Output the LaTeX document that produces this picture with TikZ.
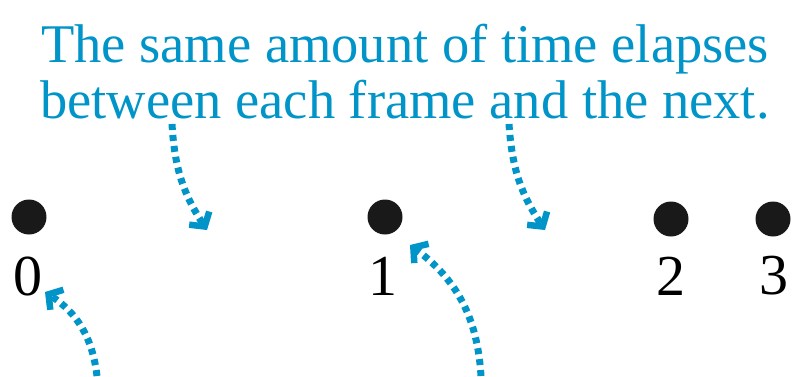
\documentclass[tikz,border=0pt]{standalone}
\usepackage{fontspec}
\setmainfont{Liberation Serif}
\usepackage{tikz}
\usetikzlibrary{positioning, arrows.meta}

\definecolor{noteblue}{RGB}{0,148,200}

\begin{document}
\begin{tikzpicture}[x=1pt, y=-1pt,
    dot/.style={circle, fill=black!90, inner sep=0pt, minimum size=35pt},
    framenum/.style={font=\fontsize{58}{58}\selectfont, inner sep=0pt},
    note/.style={draw=noteblue, line width=7pt, dash pattern=on 6pt off 5pt,
        -{Straight Barb[length=10pt, width=24pt, line width=6.5pt]}}]
    \useasboundingbox (0,0) rectangle (794,376);
    % caption
    \node[text=noteblue, align=center, font=\fontsize{54.5}{56}\selectfont] (title) at (405,72)
        {The same amount of time elapses\\between each frame and the next.};
    % frames
    \node[dot] (dot0) at (29,217) {};
    \node[dot] (dot1) at (385,217) {};
    \node[dot] (dot2) at (671,219) {};
    \node[dot] (dot3) at (773,219) {};
    \node[framenum] (num0) at (28,276) {0};
    \node[framenum] (num1) at (383,276) {1};
    \node[framenum] (num2) at (671,276) {2};
    \node[framenum] (num3) at (774,276) {3};
    % arrows
    \coordinate (topA) at (172,124);
    \coordinate (topB) at (509,124);
    \coordinate (gapA) at (207,230);
    \coordinate (gapB) at (545,230);
    \coordinate (footA) at (97,376);
    \coordinate (footB) at (481,376);
    \coordinate (tipA) at (45,292);
    \coordinate (tipB) at (410,245);
    \draw[note] (topA) to[bend right=15] (gapA);
    \draw[note] (topB) to[bend right=15] (gapB);
    \draw[note] (footA) to[bend right=25] (tipA);
    \draw[note] (footB) to[bend right=25] (tipB);
\end{tikzpicture}
\end{document}
